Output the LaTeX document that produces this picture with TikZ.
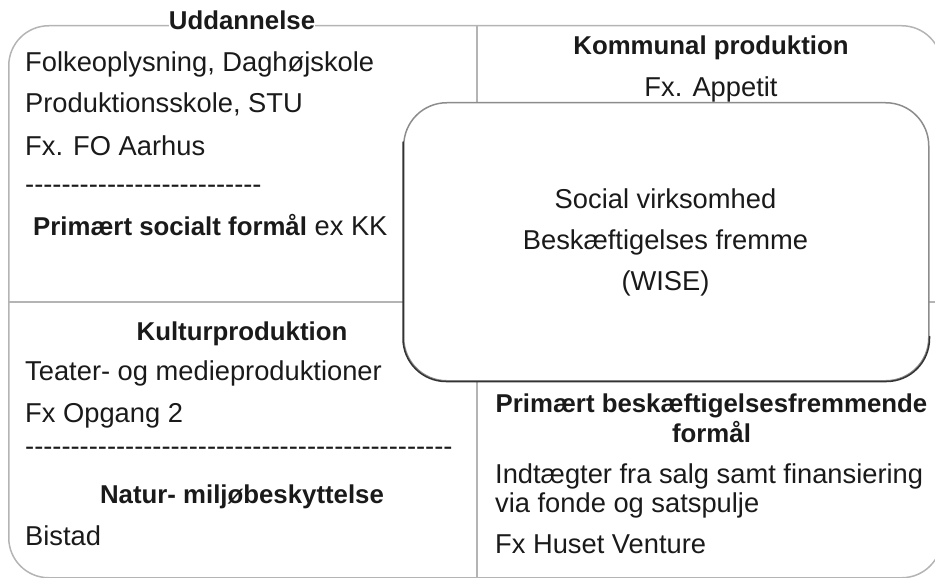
\documentclass[tikz,border=0pt]{standalone}
\usepackage{fontspec}
\setmainfont{Liberation Sans}
\usetikzlibrary{calc}
\definecolor{framegray}{HTML}{B4B4B4}
\definecolor{boxlight}{HTML}{8C8C8C}
\definecolor{boxdark}{HTML}{333333}
\definecolor{ink}{HTML}{1A1A1A}
\newcommand\hyrun[1]{\foreach\i in {1,...,#1}{-\kern0pt}}
\begin{document}
\begin{tikzpicture}[x=1pt,y=-1pt,
  txt/.style={inner sep=0pt, text=ink, font=\fontsize{27.3}{30}\selectfont},
  lt/.style={txt, anchor=base west},
  ct/.style={txt, anchor=base},
  hd/.style={ct, font=\fontsize{25.8}{30}\selectfont\bfseries},
  framel/.style={draw=framegray, line width=1.5pt}]
\useasboundingbox (0,0) rectangle (935,578);
% outer frame
\node[framel, rounded corners=40, minimum width=933pt, minimum height=552pt, inner sep=0pt, anchor=north west] (outer) at (8,25) {};
% dividers
\coordinate (vt1) at (477,25);
\coordinate (vt2) at (477,102);
\coordinate (vb1) at (477,380);
\coordinate (vb2) at (477,577);
\coordinate (hl1) at (8,302);
\coordinate (hl2) at (403,302);
\coordinate (hr1) at (928,302);
\coordinate (hr2) at (941,302);
\draw[framel] (vt1) -- (vt2);
\draw[framel] (vb1) -- (vb2);
\draw[framel] (hl1) -- (hl2);
\draw[framel] (hr1) -- (hr2);
% centre box
\node[draw=boxlight, line width=1.5pt, fill=white, rounded corners=43, minimum width=525pt, minimum height=278pt, inner sep=0pt, anchor=north west] (wise) at (403,102) {};
\draw[draw=boxdark, line width=1.5pt, line cap=round, rounded corners=43] ($(wise.north west)+(0,40)$) -- (wise.south west) -- (wise.south east) -- ($(wise.south east)+(0,-45)$);
\node[ct] (w1) at (665.5,208) {Social virksomhed};
\node[ct] (w2) at (665.5,249) {Beskæftigelses fremme};
\node[ct] (w3) at (665.5,290) {(WISE)};
% top left
\node[hd, fill=white] (udd) at (242,30) {Uddannelse};
\node[lt] (tl1) at (25,72) {Folkeoplysning, Daghøjskole};
\node[lt] (tl2) at (25,113) {Produktionsskole, STU};
\node[lt] (tl3) at (25,155) {Fx. FO Aarhus};
\node[lt] (tl4) at (25,193) {\hyrun{26}};
\node[lt] (tl5) at (33,235) {{\fontsize{25.8}{30}\selectfont\bfseries Primært socialt formål} ex KK};
% top right
\node[hd] (kom) at (711,55) {Kommunal produktion};
\node[ct] (app) at (711,96) {Fx. Appetit};
% bottom left
\node[hd] (kul) at (242,340) {Kulturproduktion};
\node[lt] (bl1) at (25,380) {Teater- og medieproduktioner};
\node[lt] (bl2) at (25,422) {Fx Opgang 2};
\node[lt] (bl3) at (25,455) {\hyrun{47}};
\node[hd] (nat) at (242,503) {Natur- miljøbeskyttelse};
\node[lt] (bl4) at (25,545) {Bistad};
% bottom right
\node[hd] (pb1) at (711.5,412) {Primært beskæftigelsesfremmende};
\node[hd] (pb2) at (711.5,442) {formål};
\node[lt] (br1) at (495,483) {Indtægter fra salg samt finansiering};
\node[lt] (br2) at (495,512) {via fonde og satspulje};
\node[lt] (br3) at (495,553) {Fx Huset Venture};
\end{tikzpicture}
\end{document}
